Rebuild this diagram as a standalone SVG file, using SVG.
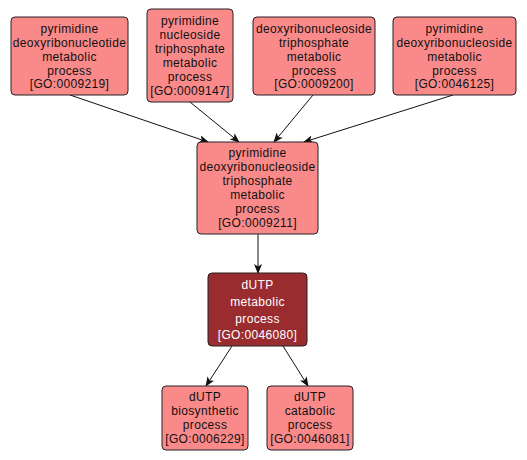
<svg xmlns="http://www.w3.org/2000/svg" width="527" height="460" viewBox="0 0 527 460">
<style>
.n rect{fill:#fa8a8a;stroke:#222;stroke-width:1}
.d rect{fill:#9a2c2f;stroke:#222;stroke-width:1}
text{font-family:"Liberation Sans",Arial,sans-serif;font-size:12px;letter-spacing:0.35px;text-anchor:middle;fill:#111}
.d text{fill:#fff}
.e line{stroke:#111;stroke-width:1;marker-end:url(#a)}
</style>
<defs><marker id="a" markerWidth="10" markerHeight="8" refX="9" refY="4" orient="auto" markerUnits="userSpaceOnUse"><path d="M0,0 L10,4 L0,8 L2.5,4 Z" fill="#111"/></marker></defs>
<rect width="527" height="460" fill="#fff"/>
<g class="e">
<line x1="70" y1="95" x2="208" y2="142"/>
<line x1="190" y1="102" x2="239" y2="142"/>
<line x1="313" y1="95" x2="274" y2="142"/>
<line x1="453" y1="95" x2="304" y2="142"/>
<line x1="258" y1="234" x2="258" y2="273"/>
<line x1="232" y1="346" x2="206" y2="386"/>
<line x1="283" y1="346" x2="308" y2="386"/>
</g>
<g id="n1" class="n"><rect x="11" y="17" width="117" height="78" rx="4"/>
<text x="69.5" y="33">pyrimidine</text><text x="69.5" y="47">deoxyribonucleotide</text><text x="69.5" y="61">metabolic</text><text x="69.5" y="75">process</text><text x="69.5" y="88">[GO:0009219]</text></g>
<g id="n2" class="n"><rect x="147" y="9" width="86" height="93" rx="4"/>
<text x="190" y="25">pyrimidine</text><text x="190" y="39">nucleoside</text><text x="190" y="53">triphosphate</text><text x="190" y="67">metabolic</text><text x="190" y="81">process</text><text x="190" y="95">[GO:0009147]</text></g>
<g id="n3" class="n"><rect x="253" y="17" width="122" height="78" rx="4"/>
<text x="314" y="33">deoxyribonucleoside</text><text x="314" y="47">triphosphate</text><text x="314" y="61">metabolic</text><text x="314" y="75">process</text><text x="314" y="88">[GO:0009200]</text></g>
<g id="n4" class="n"><rect x="393" y="17" width="123" height="78" rx="4"/>
<text x="454.5" y="33">pyrimidine</text><text x="454.5" y="47">deoxyribonucleoside</text><text x="454.5" y="61">metabolic</text><text x="454.5" y="75">process</text><text x="454.5" y="88">[GO:0046125]</text></g>
<g id="n5" class="n"><rect x="197" y="142" width="121" height="92" rx="4"/>
<text x="257.5" y="157">pyrimidine</text><text x="257.5" y="171">deoxyribonucleoside</text><text x="257.5" y="185">triphosphate</text><text x="257.5" y="199">metabolic</text><text x="257.5" y="213">process</text><text x="257.5" y="227">[GO:0009211]</text></g>
<g id="n6" class="d"><rect x="208" y="273" width="99" height="73" rx="4"/>
<text x="257.5" y="289">dUTP</text><text x="257.5" y="306">metabolic</text><text x="257.5" y="323">process</text><text x="257.5" y="339">[GO:0046080]</text></g>
<g id="n7" class="n"><rect x="162" y="386" width="86" height="64" rx="4"/>
<text x="205" y="401">dUTP</text><text x="205" y="415">biosynthetic</text><text x="205" y="429">process</text><text x="205" y="443">[GO:0006229]</text></g>
<g id="n8" class="n"><rect x="267" y="386" width="86" height="64" rx="4"/>
<text x="310" y="401">dUTP</text><text x="310" y="415">catabolic</text><text x="310" y="429">process</text><text x="310" y="443">[GO:0046081]</text></g>
</svg>
